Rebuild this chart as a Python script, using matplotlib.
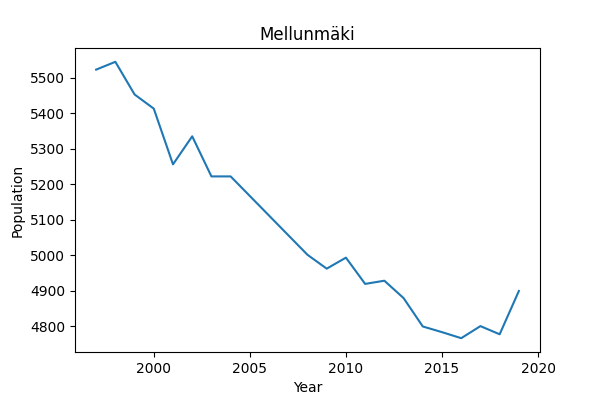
import matplotlib
matplotlib.use("Agg")
import matplotlib.pyplot as plt

years = [1997, 1998, 1999, 2000, 2001, 2002, 2003, 2004, 2008, 2009, 2010,
         2011, 2012, 2013, 2014, 2015, 2016, 2017, 2018, 2019]
population = [5523, 5545, 5453, 5413, 5256, 5335, 5222, 5222, 5001, 4962, 4993,
              4919, 4928, 4879, 4799, 4783, 4766, 4800, 4777, 4899]

fig, ax = plt.subplots(figsize=(6, 4), dpi=100)
ax.plot(years, population)
ax.set_title("Mellunmäki")
ax.set_xlabel("Year")
ax.set_ylabel("Population")
fig.subplots_adjust(left=0.125, right=0.9, bottom=0.12, top=0.88)
fig.savefig("out.png")
